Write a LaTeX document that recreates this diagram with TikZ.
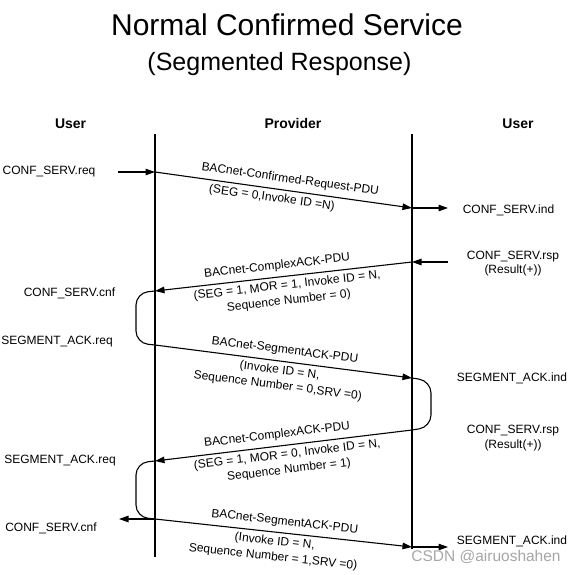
\documentclass[tikz,border=0pt]{standalone}
\usepackage{fontspec}
\setmainfont{Liberation Sans}
\usetikzlibrary{arrows.meta,calc}

\begin{document}
\begin{tikzpicture}[x=1pt, y=-1pt,
  lbl/.style={font=\fontsize{12}{14.5}\selectfont, inner sep=1pt, align=center},
  hdr/.style={font=\fontsize{14}{16}\selectfont\bfseries, anchor=base},
  lifeline/.style={line width=1.2pt},
  msg/.style={-{Triangle[length=9.5pt, width=6.5pt]}, line width=1.1pt},
  hookline/.style={line width=1.1pt, rounded corners=12pt},
  pdu/.style={lbl, sloped, above=4pt},
  pduarg/.style={lbl, sloped, below=2.5pt, font=\fontsize{12}{15.5}\selectfont}]
\useasboundingbox (0,0) rectangle (576,574);

% title and column heads
\node[font=\fontsize{30}{34}\selectfont, anchor=base] (title) at (287,35) {Normal Confirmed Service};
\node[font=\fontsize{25}{30}\selectfont, anchor=base] (subtitle) at (279.5,70.5) {(Segmented Response)};
\node[hdr] (userA) at (70.6,128) {User};
\node[hdr] (prov) at (293,128) {Provider};
\node[hdr] (userB) at (518,128) {User};

% provider boundaries
\coordinate (pL-top) at (155,134);
\coordinate (pL-bot) at (155,557);
\coordinate (pR-top) at (412,134);
\coordinate (pR-bot) at (412,549);
\draw[lifeline] (pL-top) -- (pL-bot);
\draw[lifeline] (pR-top) -- (pR-bot);

% message points on the boundaries
\coordinate (m1a) at (155,172);
\coordinate (m1b) at (412,208);
\coordinate (m2a) at (412,262);
\coordinate (m2b) at (155,291);
\coordinate (m3a) at (155,345);
\coordinate (m3b) at (412,378);
\coordinate (m4a) at (412,430);
\coordinate (m4b) at (155,461);
\coordinate (m5a) at (155,519);
\coordinate (m5b) at (412,547);

% free ends of the service primitives
\coordinate (req1-in) at (118,172);
\coordinate (ind1-out) at (448,208);
\coordinate (rsp1-in) at (448,262);
\coordinate (cnf2-out) at (119,519);
\coordinate (ind2-out) at (448,547);

% user side labels
\node[lbl] (req1) at (49,172) {CONF\_SERV.req};
\node[lbl] (ind1) at (508.5,210) {CONF\_SERV.ind};
\node[lbl] (rsp1) at (513,263.5) {CONF\_SERV.rsp\\(Result(+))};
\node[lbl] (cnf1) at (69.5,293) {CONF\_SERV.cnf};
\node[lbl] (ack1) at (57,342) {SEGMENT\_ACK.req};
\node[lbl] (sind1) at (512,378) {SEGMENT\_ACK.ind};
\node[lbl] (rsp2) at (513,438) {CONF\_SERV.rsp\\(Result(+))};
\node[lbl] (ack2) at (60,461) {SEGMENT\_ACK.req};
\node[lbl] (cnf2) at (51,528) {CONF\_SERV.cnf};
\node[lbl] (sind2) at (512,541) {SEGMENT\_ACK.ind};

% PDUs
\draw[msg] (req1-in) -- (m1a);
\draw[msg] (m1a) -- node[pdu, pos=0.52] (pdu1) {BACnet-Confirmed-Request-PDU}
  node[pduarg, pos=0.46] (arg1) {(SEG = 0,Invoke ID =N)} (m1b);
\draw[msg] (m1b) -- (ind1-out);

\draw[msg] (rsp1-in) -- (m2a);
\draw[msg] (m2a) -- node[pdu, pos=0.52] (pdu2) {BACnet-ComplexACK-PDU}
  node[pduarg, pos=0.49] (arg2) {(SEG = 1, MOR = 1, Invoke ID = N,\\Sequence Number = 0)} (m2b);
\draw[hookline] (m2b) -- ++(-19,2) -- ($(m3a)+(-19,-2)$) -- (m3a);

\draw[msg] (m3a) -- node[pdu, pos=0.5] (pdu3) {BACnet-SegmentACK-PDU}
  node[pduarg, pos=0.49] (arg3) {(Invoke ID = N,\\Sequence Number = 0,SRV =0)} (m3b);
\draw[hookline] (m3b) -- ++(19,3) -- ($(m4a)+(19,-3)$) -- (m4a);

\draw[msg] (m4a) -- node[pdu, pos=0.52] (pdu4) {BACnet-ComplexACK-PDU}
  node[pduarg, pos=0.49] (arg4) {(SEG = 1, MOR = 0, Invoke ID = N,\\Sequence Number = 1)} (m4b);
\draw[hookline] (m4b) -- ++(-19,2) -- ($(m5a)+(-19,-2)$) -- (m5a);

\draw[msg] (m5a) -- node[pdu, pos=0.5] (pdu5) {BACnet-SegmentACK-PDU}
  node[pduarg, pos=0.47] (arg5) {(Invoke ID = N,\\Sequence Number = 1,SRV =0)} (m5b);
\draw[msg] (m5a) -- (cnf2-out);
\draw[msg] (m5b) -- (ind2-out);

\node[font=\fontsize{15.5}{17}\selectfont, text=gray!70] (wm) at (486,557) {CSDN @airuoshahen};
\end{tikzpicture}
\end{document}
